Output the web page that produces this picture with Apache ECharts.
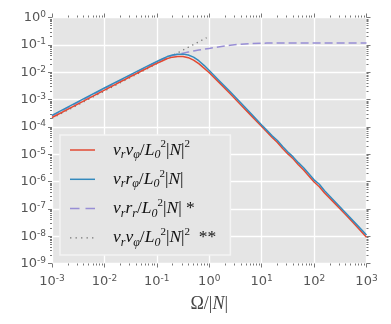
<!DOCTYPE html>
<html><head><meta charset="utf-8">
<script src="https://cdn.jsdelivr.net/npm/echarts@6/dist/echarts.min.js"></script>
<style>html,body{margin:0;padding:0;background:#fff}#c{width:391px;height:324px}</style>
</head><body><div id="c"></div><script>
// Omega/|N| sample positions, given as log10 exponents read on the log axis
const omegaExp = [-3,-2.5,-2,-1.5,-1.2,-1,-0.9,-0.8,-0.7,-0.6,-0.5,-0.4,-0.3,-0.2,-0.1,0,0.2,0.4,0.6,0.8,1.0,1.1,1.2,1.3,1.4,1.5,1.6,1.7,1.8,1.9,2.0,2.1,2.2,2.4,2.6,2.8,3.0];
// series values, as log10 exponents read on the log axis
const vrvphiExp = [-3.66,-3.16,-2.66,-2.16,-1.865,-1.675,-1.59,-1.50,-1.45,-1.43,-1.43,-1.47,-1.56,-1.69,-1.85,-2.02,-2.40,-2.79,-3.19,-3.59,-3.99,-4.19,-4.39,-4.57,-4.79,-4.99,-5.17,-5.39,-5.58,-5.80,-6.02,-6.19,-6.42,-6.81,-7.21,-7.62,-8.04];
const vrrphiExp = [-3.58,-3.08,-2.58,-2.09,-1.795,-1.61,-1.52,-1.43,-1.375,-1.345,-1.34,-1.37,-1.45,-1.58,-1.75,-1.94,-2.33,-2.72,-3.12,-3.52,-3.93,-4.13,-4.33,-4.50,-4.72,-4.92,-5.10,-5.31,-5.50,-5.72,-5.94,-6.10,-6.34,-6.74,-7.14,-7.55,-7.96];
const vrrrExp = [-3.60,-3.10,-2.60,-2.11,-1.815,-1.625,-1.535,-1.45,-1.39,-1.345,-1.305,-1.265,-1.225,-1.19,-1.16,-1.13,-1.07,-1.015,-0.975,-0.95,-0.94,-0.937,-0.935,-0.933,-0.932,-0.93,-0.93,-0.93,-0.93,-0.93,-0.93,-0.93,-0.93,-0.93,-0.93,-0.93,-0.93];
const asymOmegaExp = [-3, -0.05];
const asymExp = [-3.69, -0.74];
const xTickExp = [-3,-2,-1,0,1,2,3];
const yTickExp = [-9,-8,-7,-6,-5,-4,-3,-2,-1,0];

const legendText = {
  vrvphi: '{w|   }{i|v}{s|r}{i|v}{s|φ}{n|/}{i|L}{s|0}{p|2}{n||}{i|N}{n||}{p|2}',
  vrrphi: '{w|   }{i|v}{s|r}{i|r}{s|φ}{n|/}{i|L}{s|0}{p|2}{n||}{i|N}{n||}',
  vrrr: '{w|   }{i|v}{s|r}{i|r}{s|r}{n|/}{i|L}{s|0}{p|2}{n||}{i|N}{n||}{n| *}',
  vrvphi2: '{w|   }{i|v}{s|r}{i|v}{s|φ}{n|/}{i|L}{s|0}{p|2}{n||}{i|N}{n||}{p|2}{n|  **}'
};
const iconSolid = 'path://M0,0M25,14M0,6.25L25,6.25L25,7.75L0,7.75Z';
const iconDash = 'path://M0,0M25,14M0,6.25L9.5,6.25L9.5,7.75L0,7.75ZM15.5,6.25L25,6.25L25,7.75L15.5,7.75Z';
const iconDot = 'path://M0,0M25,14M0,6.3L1.4,6.3L1.4,7.7L0,7.7ZM5.5,6.3L6.9,6.3L6.9,7.7L5.5,7.7ZM11,6.3L12.4,6.3L12.4,7.7L11,7.7ZM16.5,6.3L17.9,6.3L17.9,7.7L16.5,7.7ZM22,6.3L23.4,6.3L23.4,7.7L22,7.7Z';

function pts(xe, ye){ return xe.map((e,k)=>[Math.pow(10,e), Math.pow(10,ye[k])]); }

// minor tick positions (axis decoration) in log10 units
const xMinor = [], yMinor = [];
for (let d=-3; d<3; d++) for (let m=2; m<10; m++) xMinor.push(d+Math.log10(m));
for (let d=-9; d<0; d++) for (let m=2; m<10; m++) yMinor.push(d+Math.log10(m));

const tickColor = '#777';
const labelRich = {
  b:{fontFamily:'DejaVu Sans',fontSize:13,color:'#555',lineHeight:15},
  s:{fontFamily:'DejaVu Sans',fontSize:9,color:'#555',lineHeight:9,verticalAlign:'top'}
};
function fmt(v){ const e=Math.round(Math.log10(v)); return '{b|10}{s|'+e+'}'; }

function overlay(pos, min, max, vals, len){
  return {type:'value', position:pos, min:min, max:max, show:true,
    axisLine:{show:false, onZero:false}, axisLabel:{show:false}, splitLine:{show:false},
    axisTick:{show:true, inside:false, length:len, customValues:vals, lineStyle:{color:tickColor,width:1}}};
}

const serif = 'Liberation Serif';
const chart = echarts.init(document.getElementById('c'), null, {renderer:'canvas'});
chart.setOption({
  animation:false,
  backgroundColor:'#fff',
  grid: {left:52, right:24.5, top:17.5, bottom:60.5, show:true, backgroundColor:'#E5E5E5', borderWidth:0},
  legend: {
    orient:'vertical', left:60, top:135,
    data:[{name:'vrvphi',icon:iconSolid},{name:'vrrphi',icon:iconSolid},{name:'vrrr',icon:iconDash},{name:'vrvphi2',icon:iconDot}],
    backgroundColor:'#E5E5E5', borderColor:'#f4f4f4', borderWidth:1.5, borderRadius:0,
    padding:[4,14,6,10], itemGap:7.3, itemWidth:25, itemHeight:14,
    formatter: n=>legendText[n],
    textStyle:{ rich:{
      w:{fontFamily:'DejaVu Sans', fontSize:13.6},
      i:{fontFamily:serif,fontStyle:'italic',fontSize:17.5,color:'#111',lineHeight:22},
      n:{fontFamily:serif,fontSize:17.5,color:'#111',lineHeight:22},
      s:{fontFamily:serif,fontStyle:'italic',fontSize:12,color:'#111',lineHeight:12,verticalAlign:'bottom'},
      p:{fontFamily:serif,fontSize:11,color:'#111',lineHeight:10,verticalAlign:'top'}
    }}
  },
  xAxis: [
    {type:'log', min:1e-3, max:1e3, interval:1, position:'bottom',
     axisLine:{show:false, onZero:false}, axisTick:{show:true, length:4, lineStyle:{color:tickColor}},
     splitLine:{show:true, lineStyle:{color:'#fff', width:1.3}},
     axisLabel:{margin:11, formatter:fmt, rich:labelRich},
     name:'{o|Ω}{o|/|}{i|N}{o||}', nameLocation:'middle', nameGap:32,
     nameTextStyle:{rich:{o:{fontFamily:serif,fontSize:18,color:'#444'},
                          i:{fontFamily:serif,fontStyle:'italic',fontSize:18,color:'#444'}}}},
    overlay('bottom', -3, 3, xMinor, 2),
    overlay('top', -3, 3, xTickExp, 4),
    overlay('top', -3, 3, xMinor, 2)
  ],
  yAxis: [
    {type:'log', min:1e-9, max:1, interval:1, position:'left',
     axisLine:{show:false, onZero:false}, axisTick:{show:true, length:4, lineStyle:{color:tickColor}},
     splitLine:{show:true, lineStyle:{color:'#fff', width:1.3}},
     axisLabel:{margin:6, formatter:fmt, rich:labelRich}},
    overlay('left', -9, 0, yMinor, 2),
    overlay('right', -9, 0, yTickExp, 4),
    overlay('right', -9, 0, yMinor, 2)
  ],
  series: [
    {name:'vrvphi', type:'line', data:pts(omegaExp, vrvphiExp), showSymbol:false, symbol:'none', z:4,
     lineStyle:{color:'#E24A33', width:1.5}, itemStyle:{color:'#E24A33'}},
    {name:'vrrphi', type:'line', data:pts(omegaExp, vrrphiExp), showSymbol:false, symbol:'none', z:5,
     lineStyle:{color:'#348ABD', width:1.5}, itemStyle:{color:'#348ABD'}},
    {name:'vrrr', type:'line', data:pts(omegaExp, vrrrExp), showSymbol:false, symbol:'none', z:3,
     lineStyle:{color:'#988ED5', width:1.5, type:[8,4]}, itemStyle:{color:'#988ED5'}},
    {name:'vrvphi2', type:'line', data:pts(asymOmegaExp, asymExp), showSymbol:false, symbol:'none', z:2,
     lineStyle:{color:'#777', width:1.3, type:[1.3,3.8]}, itemStyle:{color:'#777'}}
  ]
});
</script></body></html>
